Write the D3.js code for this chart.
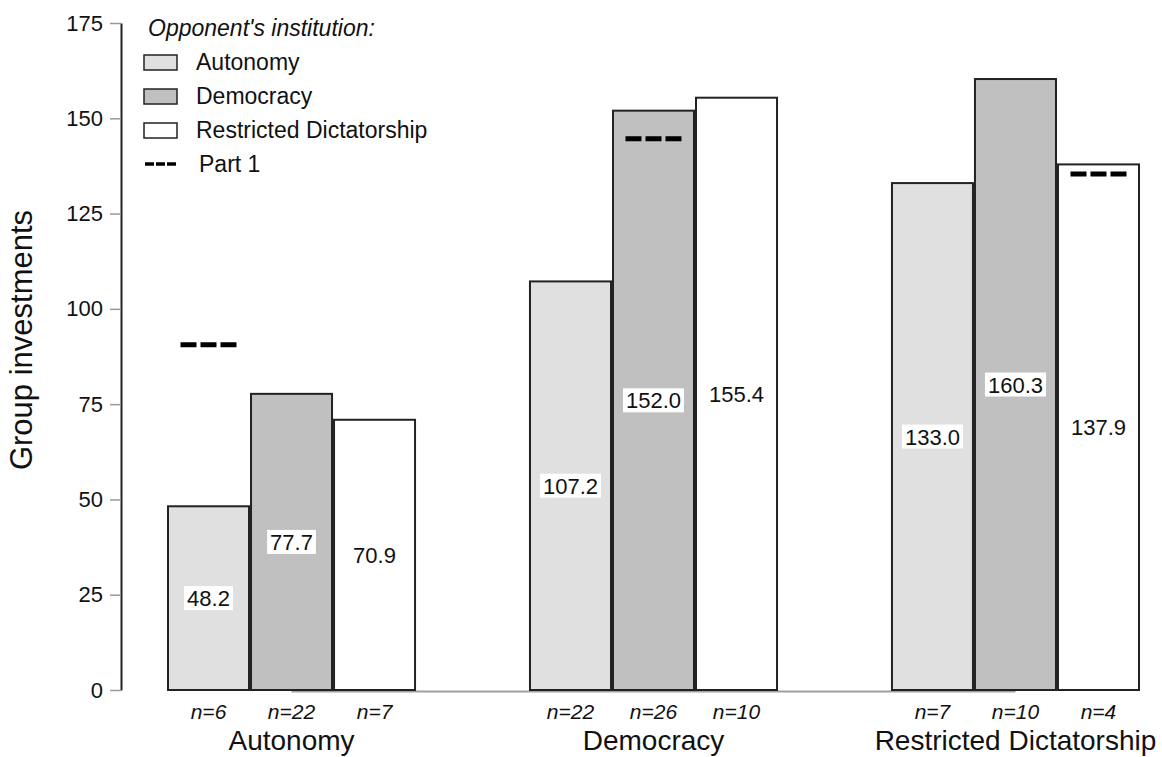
<!DOCTYPE html>
<html><head><meta charset="utf-8">
<script src="https://cdn.jsdelivr.net/npm/d3@7"></script>
<style>
body{margin:0;background:#fff}
svg{display:block}
text{font-family:"Liberation Sans",Arial,Helvetica,sans-serif}
</style>
</head><body>
<svg id="chart" width="1162" height="757"></svg>
<script>
// ---- data ----
const groups = ["Autonomy", "Democracy", "Restricted Dictatorship"];
const series = ["Autonomy", "Democracy", "Restricted Dictatorship"];
const autonomyValues = [48.2, 107.2, 133.0];
const democracyValues = [77.7, 152.0, 160.3];
const dictatorshipValues = [70.9, 155.4, 137.9];
const autonomyN = [6, 22, 7];
const democracyN = [22, 26, 10];
const dictatorshipN = [7, 10, 4];
const part1Values = [90.6, 144.6, 135.4];
const yTicks = [0, 25, 50, 75, 100, 125, 150, 175];
const seriesFill = ["#e0e0e0", "#c0c0c0", "#ffffff"];
const legendTitle = "Opponent's institution:";
const yTitle = "Group investments";

const seriesValues = [autonomyValues, democracyValues, dictatorshipValues];
const seriesN = [autonomyN, democracyN, dictatorshipN];

const svg = d3.select("#chart");
const FONT = '"Liberation Sans",Arial,Helvetica,sans-serif';

const y = d3.scaleLinear().domain([0, 175]).range([690, 23]);
const x0 = d3.scaleBand().domain(groups).range([167, 1140]).paddingInner(0.312).paddingOuter(0);
const x1 = d3.scaleBand().domain(series).range([0, x0.bandwidth()]).padding(0);
const color = d3.scaleOrdinal().domain(series).range(seriesFill);

// gray baseline
const dCenter = x1("Democracy") + x1.bandwidth() / 2;
svg.append("line")
  .attr("x1", x0(groups[0]) + dCenter).attr("x2", x0(groups[2]) + dCenter)
  .attr("y1", y(0) + 1.5).attr("y2", y(0) + 1.5)
  .attr("stroke", "#a0a0a0").attr("stroke-width", 2);

// y axis
const yAxis = d3.axisLeft(y).tickValues(yTicks).tickSize(11).tickSizeOuter(0).tickPadding(7);
const gA = svg.append("g").attr("transform", "translate(121,0)").call(yAxis);
gA.attr("font-family", FONT);
gA.select(".domain").attr("stroke", "#222").attr("stroke-width", 2);
gA.selectAll(".tick line").attr("stroke", "#999").attr("stroke-width", 1.5);
gA.selectAll(".tick text").attr("font-size", 22).attr("fill", "#111");

// y title
svg.append("text")
  .attr("transform", "translate(32,340) rotate(-90)")
  .attr("text-anchor", "middle")
  .attr("font-size", 31)
  .attr("fill", "#111")
  .text(yTitle);

// bars
const rows = [];
groups.forEach((g, gi) => series.forEach((s, si) => {
  rows.push({ g, gi, s, si, v: seriesValues[si][gi], n: seriesN[si][gi] });
}));

const gBars = svg.append("g");
gBars.selectAll("rect").data(rows).join("rect")
  .attr("x", d => x0(d.g) + x1(d.s) + 1)
  .attr("width", x1.bandwidth() - 2)
  .attr("y", d => y(d.v))
  .attr("height", d => y(0) - y(d.v))
  .attr("fill", d => color(d.s))
  .attr("stroke", "#222")
  .attr("stroke-width", 2);

// value labels
const gLab = svg.append("g");
rows.forEach(d => {
  const cx = x0(d.g) + x1(d.s) + x1.bandwidth() / 2;
  const cy = (y(0) + y(d.v)) / 2;
  const t = gLab.append("text")
    .attr("x", cx).attr("y", cy + 8)
    .attr("text-anchor", "middle")
    .attr("font-size", 22)
    .attr("fill", "#111")
    .text(d3.format(".1f")(d.v));
  const bb = t.node().getBBox();
  gLab.insert("rect", () => t.node())
    .attr("x", bb.x - 3).attr("y", cy - 12)
    .attr("width", bb.width + 6).attr("height", 24)
    .attr("fill", "#fff");
});

// Part 1 dashes
groups.forEach((g, gi) => {
  const s = series[gi];
  const cx = x0(g) + x1(s) + x1.bandwidth() / 2;
  svg.append("line")
    .attr("x1", cx - 28).attr("x2", cx + 28)
    .attr("y1", y(part1Values[gi])).attr("y2", y(part1Values[gi]))
    .attr("stroke", "#000").attr("stroke-width", 5)
    .attr("stroke-dasharray", "16,4");
});

// n labels
svg.append("g").selectAll("text").data(rows).join("text")
  .attr("x", d => x0(d.g) + x1(d.s) + x1.bandwidth() / 2)
  .attr("y", 719)
  .attr("text-anchor", "middle")
  .attr("font-size", 21)
  .attr("font-style", "italic")
  .attr("fill", "#111")
  .text(d => "n=" + d.n);

// group labels
svg.append("g").selectAll("text").data(groups).join("text")
  .attr("x", d => x0(d) + x0.bandwidth() / 2)
  .attr("y", 750)
  .attr("text-anchor", "middle")
  .attr("font-size", 28)
  .attr("fill", "#111")
  .text(d => d);

// legend
const lg = svg.append("g");
lg.append("text").attr("x", 148).attr("y", 36)
  .attr("font-size", 23).attr("font-style", "italic").attr("fill", "#111")
  .text(legendTitle);
series.forEach((s, i) => {
  const cy = 62 + 34 * i;
  lg.append("rect").attr("x", 144).attr("y", cy - 7).attr("width", 33).attr("height", 15)
    .attr("fill", color(s)).attr("stroke", "#222").attr("stroke-width", 1.5);
  lg.append("text").attr("x", 196).attr("y", cy + 8)
    .attr("font-size", 23).attr("fill", "#111").text(s);
});
const pcy = 62 + 34 * 3;
lg.append("line").attr("x1", 145).attr("x2", 176).attr("y1", pcy).attr("y2", pcy)
  .attr("stroke", "#000").attr("stroke-width", 3.5).attr("stroke-dasharray", "9,2");
lg.append("text").attr("x", 199).attr("y", pcy + 8)
  .attr("font-size", 23).attr("fill", "#111").text("Part 1");
</script>
</body></html>
